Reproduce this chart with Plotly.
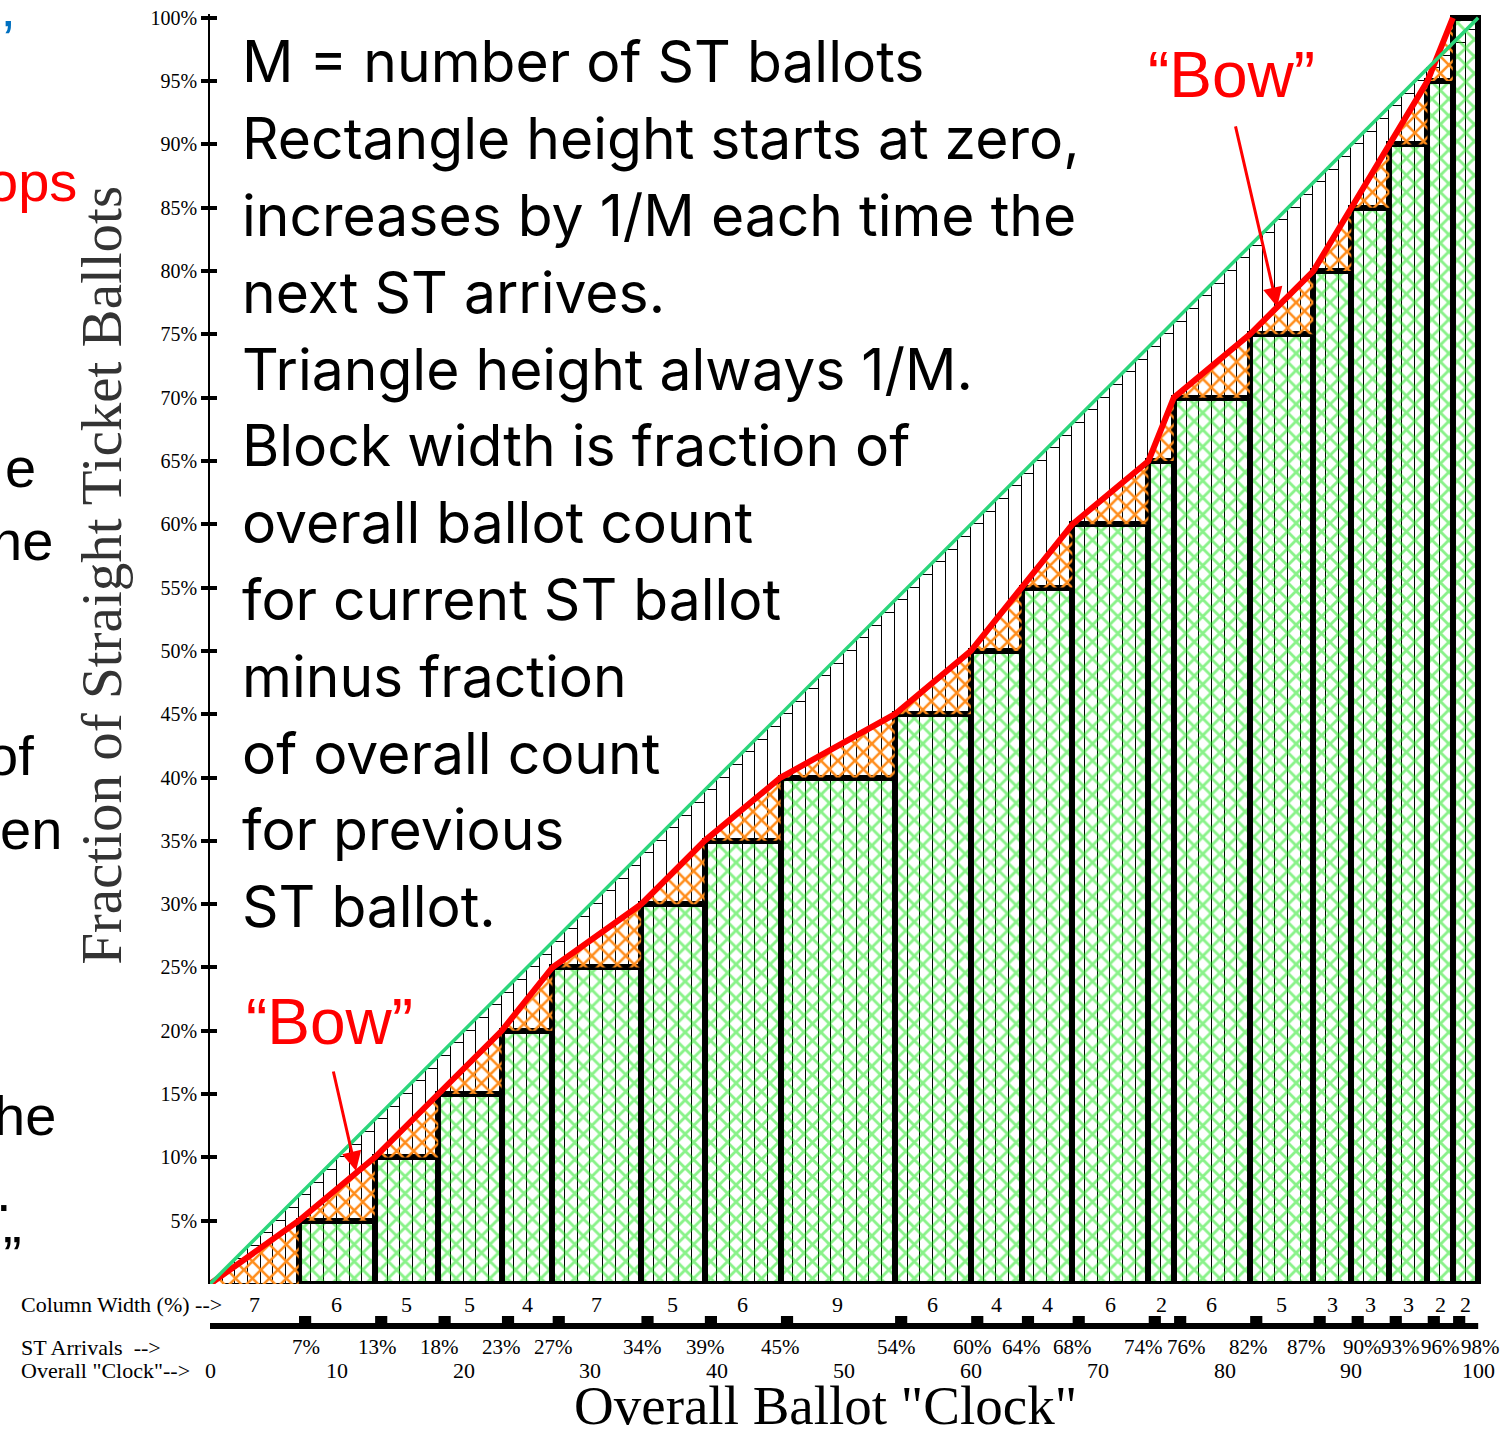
import plotly.graph_objects as go

# ---- data ----
col_widths = [7, 6, 5, 5, 4, 7, 5, 6, 9, 6, 4, 4, 6, 2, 6, 5, 3, 3, 3, 2, 2]
col_starts = [0, 7, 13, 18, 23, 27, 34, 39, 45, 54, 60, 64, 68, 74, 76, 82, 87, 90, 93, 96, 98]
col_heights = [0, 5, 10, 15, 20, 25, 30, 35, 40, 45, 50, 55, 60, 65, 70, 75, 80, 85, 90, 95, 100]
st_arrivals = [7, 13, 18, 23, 27, 34, 39, 45, 54, 60, 64, 68, 74, 76, 82, 87, 90, 93, 96, 98]
clock_labels = [0, 10, 20, 30, 40, 50, 60, 70, 80, 90, 100]
clock_units = list(range(0, 100))
y_ticks = [5, 10, 15, 20, 25, 30, 35, 40, 45, 50, 55, 60, 65, 70, 75, 80, 85, 90, 95, 100]

text_lines = [
    "M = number of ST ballots",
    "Rectangle height starts at zero,",
    "increases by 1/M each time the",
    "next ST arrives.",
    "Triangle height always 1/M.",
    "Block width is fraction of",
    "overall ballot count",
    "for current ST ballot",
    "minus fraction",
    "of overall count",
    "for previous",
    "ST ballot.",
]

# cut-off words of the neighbouring slide text (text, right edge px, y px, colour)
side_bits = [
    ("\u2019", 16, 40, "#0070c0"),
    ("ops", 79, 182, "#ff0000"),
    ("e", 38, 468, "black"),
    ("ne", 55, 541, "black"),
    ("of", 36, 756, "black"),
    ("en", 64, 830, "black"),
    ("he", 58, 1116, "black"),
    (".", 14, 1192, "black"),
    ("\u201d", 24, 1256, "black"),
]

# nudges for crowded arrival labels (clock units)
arrival_nudge = [0.6, 0.2, 0.1, 0, 0.1, 0.1, 0.1, 0, 0.1, 0.1, 0, 0, -0.4, 1.0, -0.1, -0.5, 0.9, 0.9, 1.0, 2.2]

# ---- page geometry (screen pixels of the reference) ----
W, H = 1512, 1440
X0, Y0 = 210, 1284           # screen position of (0, 0)
PXX, PXY = 12.68, 12.66
XMAX, YMAX = 100.3, 100.3
PLOT_W, PLOT_H = XMAX * PXX, YMAX * PXY


def xd(px):
    return (px - X0) / PXX


def yd(py):
    return (Y0 - py) / PXY


def xp(px):
    return (px - X0) / PLOT_W


def yp(py):
    return (Y0 - py) / PLOT_H


SERIF = "Liberation Serif"
SANS = "Inter"

fig = go.Figure()

# thin unit columns
fig.add_trace(go.Bar(
    x=[k + 0.5 for k in clock_units[1:]],
    y=clock_units[1:],
    width=1,
    marker=dict(color="rgba(0,0,0,0)", line=dict(color="black", width=1)),
    hoverinfo="skip", showlegend=False))

# green blocks
bx = [s + w / 2 for s, w, h in zip(col_starts, col_widths, col_heights) if h > 0]
bw = [w for w, h in zip(col_widths, col_heights) if h > 0]
bh = [h for h in col_heights if h > 0]
fig.add_trace(go.Bar(
    x=bx, y=bh, width=bw,
    marker=dict(color="#14e614", line=dict(color="black", width=6),
                pattern=dict(shape="x", fgcolor="#14e614", bgcolor="rgba(0,0,0,0)",
                             size=12, solidity=0.42)),
    hoverinfo="skip", showlegend=False))

# orange triangles between bar tops and red line
tx, ty = [], []
for k in range(len(col_starts) - 1):
    tx += [col_starts[k], col_starts[k + 1], col_starts[k + 1], col_starts[k], None]
    ty += [col_heights[k], col_heights[k + 1], col_heights[k], col_heights[k], None]
fig.add_trace(go.Scatter(
    x=tx, y=ty, mode="lines", fill="toself",
    line=dict(width=0), fillcolor="#ff8c1a",
    fillpattern=dict(shape="x", fgcolor="#ff8c1a", bgcolor="rgba(0,0,0,0)",
                     size=12, solidity=0.38, fillmode="replace"),
    hoverinfo="skip", showlegend=False))

# red line through block corners
fig.add_trace(go.Scatter(
    x=col_starts, y=col_heights, mode="lines",
    line=dict(color="#ff0000", width=6),
    hoverinfo="skip", showlegend=False))

# green diagonal
fig.add_trace(go.Scatter(
    x=[0, 100], y=[0, 100], mode="lines",
    line=dict(color="#2bd67b", width=3.5),
    hoverinfo="skip", showlegend=False))

# dummy trace so the inside-tick axis is drawn
fig.add_trace(go.Scatter(x=[0], y=[0], yaxis="y2", mode="markers",
                         marker=dict(opacity=0), hoverinfo="skip", showlegend=False))

small = dict(family=SERIF, size=22, color="black")
pct = dict(family=SERIF, size=21, color="black")
ann = []


def note(x, y, text, font, xref="paper", yref="paper", xanchor="center", **kw):
    ann.append(dict(x=x, y=y, xref=xref, yref=yref, text=text, font=font, showarrow=False,
                    xanchor=xanchor, yanchor="middle", **kw))


# bottom rows
note(xp(19), yp(1304), "Column Width (%) -->", small, xanchor="left")
for s, w in zip(col_starts, col_widths):
    note(s + w / 2, yp(1304), str(w), small, xref="x")
note(xp(19), yp(1347), "ST Arrivals  -->", small, xanchor="left")
for a, n in zip(st_arrivals, arrival_nudge):
    note(a + n, yp(1347), f"{a}%", pct, xref="x")
note(xp(19), yp(1370), 'Overall "Clock"-->', small, xanchor="left")
for c in clock_labels:
    note(c, yp(1370), str(c), small, xref="x")

# axis titles
note(xp(825), yp(1405), 'Overall Ballot "Clock"', dict(family=SERIF, size=55, color="black"))
note(xp(102), yp(575), "Fraction of Straight Ticket Ballots",
     dict(family=SERIF, size=57, color="#333333"), textangle=-90)

# explanation text
for i, line in enumerate(text_lines):
    note(xp(240), yp(62 + i * 76.8), line, dict(family=SANS, size=57, color="black"), xanchor="left")

# "Bow" labels and arrows
bow_font = dict(family="Liberation Sans", size=64, color="#ff0000")
note(xp(1231), yp(75), "\u201cBow\u201d", bow_font)
note(xp(329), yp(1022), "\u201cBow\u201d", bow_font)
ann.append(dict(x=xd(1277), y=yd(307), xref="x", yref="y", text="", showarrow=True,
                ax=-42, ay=-182, arrowcolor="#ff0000", arrowwidth=3, arrowhead=2, arrowsize=1.3))
ann.append(dict(x=xd(356), y=yd(1171), xref="x", yref="y", text="", showarrow=True,
                ax=-23, ay=-101, arrowcolor="#ff0000", arrowwidth=3, arrowhead=2, arrowsize=1.3))

# fragments of the neighbouring text box
for t, rx, py, col in side_bits:
    note(xp(rx), yp(py), t, dict(family="Liberation Sans", size=56, color=col), xanchor="right")

# bottom bar with a square at each ST arrival
shapes = [dict(type="line", xref="x", yref="paper", x0=0, x1=100,
               y0=yp(1326), y1=yp(1326), line=dict(color="black", width=6))]
for a in st_arrivals:
    shapes.append(dict(type="rect", xref="x", yref="paper", x0=a + 0.5 - 0.48, x1=a + 0.5 + 0.48,
                       y0=yp(1326), y1=yp(1316), fillcolor="black", line=dict(width=0)))

fig.update_layout(
    width=W, height=H,
    margin=dict(l=X0, r=W - X0 - PLOT_W, t=Y0 - PLOT_H, b=H - Y0, pad=0, autoexpand=False),
    plot_bgcolor="white", paper_bgcolor="white",
    barmode="overlay", bargap=0,
    showlegend=False,
    xaxis=dict(range=[0, XMAX], visible=False, fixedrange=True, automargin=False),
    yaxis=dict(range=[0, YMAX], tickvals=y_ticks, ticktext=[f"{v}%" for v in y_ticks],
               showgrid=False, zeroline=False, showline=True, linecolor="black", linewidth=1.5,
               ticks="outside", ticklen=7, tickwidth=4, tickcolor="black",
               ticklabeloverflow="allow", automargin=False,
               tickfont=dict(family=SERIF, size=20, color="black")),
    yaxis2=dict(range=[0, YMAX], overlaying="y", side="left", tickvals=y_ticks,
                showticklabels=False, showgrid=False, zeroline=False, showline=False,
                ticks="inside", ticklen=7, tickwidth=4, tickcolor="black", automargin=False),
    shapes=shapes,
    annotations=ann,
)

# drop the default page margin so the figure sits at the top-left corner
fig.write_html("out.html", config={"displayModeBar": False},
               post_script="document.body.style.margin='0px';")
